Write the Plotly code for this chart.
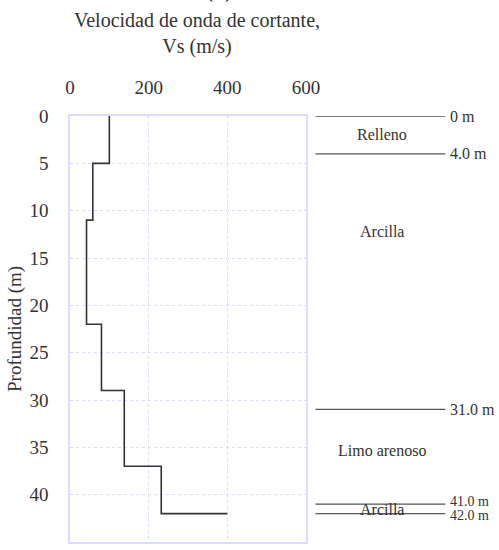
import plotly.graph_objects as go

# Vs profile (step): depth at top of each segment and Vs value
depth_top = [0, 5, 11, 22, 29, 37, 42]
vs_values = [100, 58, 42, 80, 138, 232, 400]

# Stratigraphy schematic
boundary_depths = [0.0, 4.0, 31.0, 41.0, 42.0]
boundary_labels = ["0 m", "4.0 m", "31.0 m", "41.0 m", "42.0 m"]
layer_names = ["Relleno", "Arcilla", "Limo arenoso", "Arcilla"]
layer_label_depths = [2.0, 12.2, 35.3, 41.6]

x_ticks = [0, 200, 400, 600]
y_ticks = [0, 5, 10, 15, 20, 25, 30, 35, 40, 45]

FONT = "Liberation Serif"
TXT = "#333333"
grid_col = "#dcdcff"

fig = go.Figure()
fig.add_trace(go.Scatter(
    x=vs_values, y=depth_top, mode="lines", line_shape="vh",
    line=dict(color="#333333", width=1.6), showlegend=False, hoverinfo="skip"))

fig.update_layout(
    width=499, height=550,
    margin=dict(l=70, r=193, t=116, b=8),
    paper_bgcolor="white", plot_bgcolor="white",
    font=dict(family=FONT, size=19, color=TXT),
    xaxis=dict(range=[0, 600], side="top", tickvals=x_ticks, ticks="",
               showgrid=True, gridcolor=grid_col, griddash="dot", gridwidth=1,
               showline=True, linecolor=grid_col, linewidth=1.5, mirror=True,
               zeroline=False, ticklabelstandoff=13, automargin=False,
               tickfont=dict(size=19)),
    yaxis=dict(range=[45, 0], tickvals=y_ticks, ticks="",
               showgrid=True, gridcolor=grid_col, griddash="dot", gridwidth=1,
               showline=True, linecolor=grid_col, linewidth=1.5, mirror=True,
               zeroline=False, ticklabelstandoff=16, automargin=False,
               tickfont=dict(size=19)),
)

# y axis title
fig.add_annotation(xref="paper", yref="paper", x=0.0, xshift=-55, y=0.5,
                   text="Profundidad (m)", textangle=-90, showarrow=False,
                   xanchor="center", yanchor="middle",
                   font=dict(family=FONT, size=19, color=TXT))
# top axis title
fig.add_annotation(xref="paper", yref="paper", x=0.54, y=1.0, yshift=83,
                   text="Velocidad de onda de cortante,<br>Vs (m/s)",
                   showarrow=False, xanchor="center", yanchor="middle",
                   font=dict(family=FONT, size=20, color=TXT))
# partially visible panel label at very top
fig.add_annotation(xref="paper", yref="paper", x=0.63, y=1.0, yshift=112,
                   text="(1)", showarrow=False, xanchor="center", yanchor="bottom",
                   font=dict(family=FONT, size=24, color="#111111"))

# stratigraphy lines & labels
for d, lab in zip(boundary_depths, boundary_labels):
    fig.add_shape(type="line", xref="paper", yref="y", x0=1.04, x1=1.59, y0=d, y1=d,
                  line=dict(color="#555555", width=1.3))
    ys, fs = 0, 16
    if lab == "41.0 m":
        ys, fs = 3, 14
    if lab == "42.0 m":
        ys, fs = -2, 14
    fig.add_annotation(xref="paper", yref="y", x=1.6, y=d, yshift=ys, text=lab,
                       showarrow=False, xanchor="left", yanchor="middle",
                       font=dict(family=FONT, size=fs, color=TXT))
for d, name in zip(layer_label_depths, layer_names):
    fig.add_annotation(xref="paper", yref="y", x=1.32, y=d, text=name,
                       showarrow=False, xanchor="center", yanchor="middle",
                       font=dict(family=FONT, size=16, color=TXT))

fig.write_html("out.html")
